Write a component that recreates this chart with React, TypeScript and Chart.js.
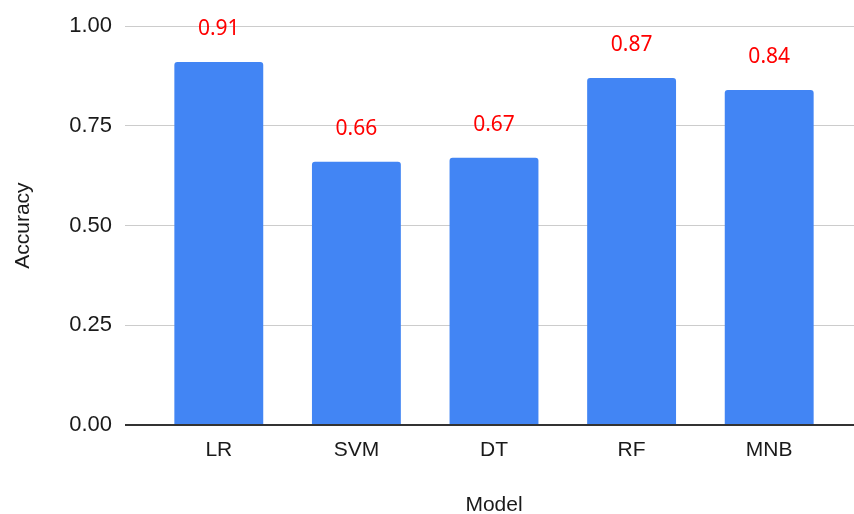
import React, { useEffect, useRef } from "react";
import { Chart, registerables } from "chart.js";

Chart.register(...registerables);

// Model accuracy values
const models = ["LR", "SVM", "DT", "RF", "MNB"];
const accuracy = [0.91, 0.66, 0.67, 0.87, 0.84];
const yMin = 0;
const yMax = 1;
const yStep = 0.25;

const BAR_COLOR = "#4285F4";
const LABEL_COLOR = "#ff0000";
const TEXT_COLOR = "#1a1a1a";

const gridColor = (ctx: any) => (ctx.tick && ctx.tick.value === 0 ? "#333333" : "#cccccc");
const gridWidth = (ctx: any) => (ctx.tick && ctx.tick.value === 0 ? 2 : 1);

// Writes each bar's value above it in red
const valueLabels = {
  id: "valueLabels",
  afterDatasetsDraw(chart: any) {
    const { ctx } = chart;
    const meta = chart.getDatasetMeta(0);
    ctx.save();
    ctx.font = '21px "Noto Sans"';
    ctx.fillStyle = LABEL_COLOR;
    ctx.textAlign = "center";
    ctx.textBaseline = "alphabetic";
    meta.data.forEach((bar: any, i: number) => {
      const v = chart.data.datasets[0].data[i] as number;
      ctx.fillText(v.toFixed(2), bar.x, bar.y - 27);
    });
    ctx.restore();
  },
};

export default function App() {
  const canvasRef = useRef<HTMLCanvasElement | null>(null);

  useEffect(() => {
    if (!canvasRef.current) return;
    Chart.defaults.font.family = '"Liberation Sans", Arial, sans-serif';
    Chart.defaults.color = TEXT_COLOR;
    const chart = new Chart(canvasRef.current, {
      type: "bar",
      data: {
        labels: models,
        datasets: [
          {
            label: "Accuracy",
            data: accuracy,
            backgroundColor: BAR_COLOR,
            borderRadius: 3,
            borderSkipped: "start",
            barPercentage: 0.646,
            categoryPercentage: 1,
          },
        ],
      },
      options: {
        animation: false,
        responsive: false,
        devicePixelRatio: 1,
        layout: { padding: { top: 25, left: 0, right: 0, bottom: 0 } },
        plugins: {
          legend: { display: false },
          tooltip: { enabled: false },
        },
        scales: {
          x: {
            z: 1,
            grid: { display: false },
            border: { display: true, color: "#333333", width: 2 },
            ticks: { font: { size: 21 }, color: TEXT_COLOR, padding: 5 },
            title: {
              display: true,
              text: "Model",
              font: { size: 21 },
              color: TEXT_COLOR,
              padding: { top: 0, bottom: -4 },
            },
            afterFit: (scale: any) => {
              scale.height = 89;
            },
          },
          y: {
            min: yMin,
            max: yMax,
            grid: {
              color: gridColor,
              lineWidth: gridWidth,
              drawTicks: true,
              tickLength: 25,
            },
            border: { display: false },
            ticks: {
              stepSize: yStep,
              font: { size: 22 },
              color: TEXT_COLOR,
              padding: 13,
              callback: (v: any) => Number(v).toFixed(2),
            },
            title: {
              display: true,
              text: "Accuracy",
              font: { size: 21 },
              color: TEXT_COLOR,
              padding: { top: 11, bottom: 0 },
            },
            afterFit: (scale: any) => {
              scale.width = 150;
            },
          },
          y2: {
            position: "right",
            min: yMin,
            max: yMax,
            grid: {
              color: gridColor,
              lineWidth: gridWidth,
              drawOnChartArea: false,
              drawTicks: true,
              tickLength: 16,
            },
            border: { display: false },
            ticks: { stepSize: yStep, display: false },
            afterFit: (scale: any) => {
              scale.width = 16;
            },
          },
        },
      },
      plugins: [valueLabels],
    });
    return () => chart.destroy();
  }, []);

  return (
    <div style={{ position: "fixed", left: 0, top: 0, width: 854, height: 514, background: "#ffffff" }}>
      <canvas ref={canvasRef} width={854} height={514} />
    </div>
  );
}
